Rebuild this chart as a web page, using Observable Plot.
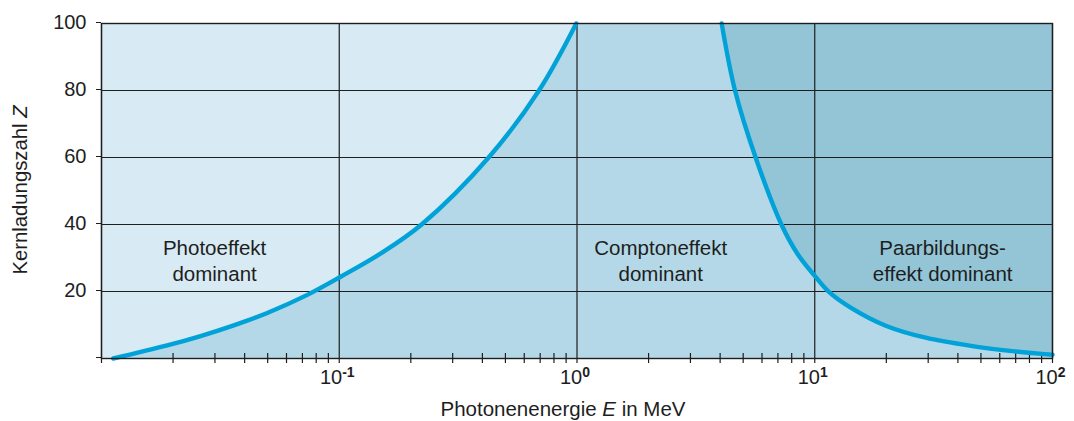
<!DOCTYPE html>
<html><head><meta charset="utf-8">
<script src="https://cdn.jsdelivr.net/npm/d3@7"></script>
<script src="https://cdn.jsdelivr.net/npm/@observablehq/plot@0.6"></script>
<style>
body{margin:0;background:#fff;}
svg{font-family:"Liberation Sans",Arial,Helvetica,sans-serif;}
</style>
</head><body><div id="chart"></div>
<script>
// Boundary Photoeffekt / Comptoneffekt (E in MeV, Z)
const photoE = [0.0112, 0.0189, 0.0261, 0.0360, 0.0498, 0.0734, 0.1013, 0.149, 0.222, 0.425, 0.692, 0.993];
const photoZ = [0, 3.9, 6.7, 9.9, 13.6, 19.0, 24.4, 31.3, 40, 60, 80, 100];
// Boundary Comptoneffekt / Paarbildungseffekt
const pairE = [4.06, 4.62, 5.64, 7.24, 8.47, 10.02, 11.47, 14.16, 19.88, 29.28, 46.03, 67.8, 100];
const pairZ = [100, 80, 60, 40, 31.2, 24.6, 19.9, 15.2, 9.8, 6.2, 3.7, 2.2, 1.1];

const xDomain = [0.01, 100];
const yDomain = [0, 100];
const decades = [0.01, 0.1, 1, 10, 100];
const labeledDecades = [0.1, 1, 10, 100];
const exponents = ["-1", "0", "1", "2"];
const minorFactors = [2, 3, 4, 5, 6, 7, 8, 9];
const yTicks = [0, 20, 40, 60, 80, 100];
const yGrid = [20, 40, 60, 80];

const regionNames = ["Photoeffekt\ndominant", "Comptoneffekt\ndominant", "Paarbildungs-\neffekt dominant"];
const regionE = [0.0299, 2.25, 34.5];
const regionZ = [29.5, 29.5, 29.5];

const cLight = "#d8eaf3", cMid = "#b4d8e7", cDark = "#93c5d7", cCurve = "#00a2d8", cInk = "#1e1e1e";

const photo = photoE.map((E, i) => ({E, Z: photoZ[i]}));
const pair = pairE.map((E, i) => ({E, Z: pairZ[i]}));
const photoArea = [{E: xDomain[0], Z: yDomain[0]}, ...photo];
const minorTicks = decades.slice(0, -1).flatMap(d => minorFactors.map(k => k * d));
const regions = regionNames.map((t, i) => ({t, E: regionE[i], Z: regionZ[i]}));
const crv = "catmull-rom";

const svg = Plot.plot({
  width: 1074, height: 421,
  marginTop: 23, marginBottom: 63, marginLeft: 101, marginRight: 22,
  style: {fontFamily: '"Liberation Sans", Arial, sans-serif', background: "#fff"},
  x: {type: "log", domain: xDomain},
  y: {domain: yDomain},
  marks: [
    Plot.frame({fill: cMid, stroke: null}),
    Plot.areaY(photoArea, {x: "E", y1: "Z", y2: yDomain[1], fill: cLight, curve: crv}),
    Plot.areaY(pair, {x: "E", y1: "Z", y2: yDomain[1], fill: cDark, curve: crv}),
    Plot.ruleY(yGrid, {stroke: cInk, strokeWidth: 1.2}),
    Plot.ruleX(decades, {y1: -1.5, y2: yDomain[1], stroke: cInk, strokeWidth: 1.2}),
    Plot.ruleX(minorTicks, {y1: -1.5, y2: 1.5, stroke: cInk, strokeWidth: 1.2}),
    Plot.line(photo, {x: "E", y: "Z", stroke: cCurve, strokeWidth: 4.4, curve: crv}),
    Plot.line(pair, {x: "E", y: "Z", stroke: cCurve, strokeWidth: 4.4, curve: crv}),
    Plot.frame({stroke: cInk, strokeWidth: 1.4}),
    Plot.text(regions, {x: "E", y: "Z", text: "t", fontSize: 20.5, lineHeight: 1.28, fill: cInk, textAnchor: "middle", lineAnchor: "middle"}),
    Plot.axisY(yTicks, {tickSize: 5, tickPadding: 10, fontSize: 20, dy: -1, stroke: cInk, fill: cInk,
      tickFormat: d => d === 0 ? "" : String(d), label: null}),
    Plot.axisX(labeledDecades, {tickSize: 0, tickPadding: 11, fontSize: 20, fill: cInk,
      tickFormat: d => exponents[labeledDecades.indexOf(d)], label: null})
  ]
});

const s = d3.select(svg);
s.selectAll('g[aria-label="x-axis tick label"] text').each(function() {
  const exp = this.textContent;
  const t = d3.select(this);
  t.text(null);
  t.append("tspan").text("10");
  t.append("tspan").attr("font-size", 14).attr("font-weight", "bold").attr("dy", -7).text(exp);
  t.attr("dx", -2);
});

// Axis titles with italic variables
const yl = s.append("text")
  .attr("transform", "translate(26.5,190) rotate(-90)")
  .attr("text-anchor", "middle").attr("font-size", 20.3).attr("fill", cInk);
yl.append("tspan").text("Kernladungszahl ");
yl.append("tspan").attr("font-style", "italic").text("Z");

const xl = s.append("text")
  .attr("x", 563).attr("y", 416)
  .attr("text-anchor", "middle").attr("font-size", 20.5).attr("fill", cInk);
xl.append("tspan").text("Photonenenergie ");
xl.append("tspan").attr("font-style", "italic").text("E");
xl.append("tspan").text(" in MeV");

document.getElementById("chart").appendChild(svg);
</script>
</body></html>
